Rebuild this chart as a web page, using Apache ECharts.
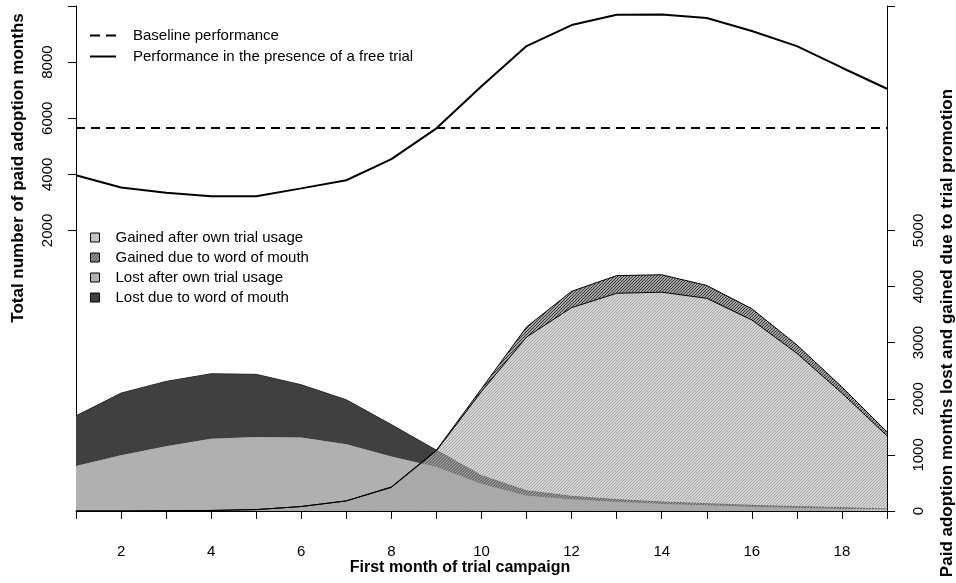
<!DOCTYPE html>
<html>
<head>
<meta charset="utf-8">
<script src="https://cdn.jsdelivr.net/npm/echarts@6/dist/echarts.min.js"></script>
<style>
  html, body { margin: 0; padding: 0; background: #fff; }
  #chart { width: 956px; height: 583px; }
</style>
</head>
<body>
<div id="chart"></div>
<script>
// ---- data ----
const months = [1, 2, 3, 4, 5, 6, 7, 8, 9, 10, 11, 12, 13, 14, 15, 16, 17, 18, 19];
const baselinePerformance = 5670;
const trialPerformance = [3970, 3530, 3340, 3220, 3220, 3500, 3790, 4540, 5640, 7140, 8570, 9320, 9690, 9700, 9570, 9110, 8570, 7800, 7050];
const gainedOwnTrial = [0, 0, 5, 10, 25, 80, 180, 420, 1075, 2130, 3100, 3625, 3880, 3900, 3790, 3405, 2810, 2100, 1340];
const gainedWordOfMouth = [0, 0, 0, 0, 0, 0, 0, 10, 10, 50, 180, 290, 315, 310, 230, 200, 150, 110, 70];
const lostOwnTrial = [804, 995, 1155, 1286, 1321, 1311, 1191, 970, 786, 480, 270, 203, 161, 125, 96, 71, 54, 36, 25];
const lostWordOfMouth = [892, 1106, 1155, 1160, 1114, 939, 791, 570, 298, 150, 90, 59, 42, 36, 35, 30, 24, 24, 11];
const leftTicks = [2000, 4000, 6000, 8000];
const rightTicks = [0, 1000, 2000, 3000, 4000, 5000];

const FONT = 'Liberation Sans, Arial, sans-serif';

function hatch(lineColor, period, lw) {
  const c = document.createElement('canvas');
  c.width = period; c.height = period;
  const ctx = c.getContext('2d');
  ctx.strokeStyle = lineColor;
  ctx.lineWidth = lw;
  ctx.beginPath();
  ctx.moveTo(-period, 2 * period); ctx.lineTo(2 * period, -period);
  ctx.moveTo(-period, period); ctx.lineTo(period, -period);
  ctx.moveTo(0, 2 * period); ctx.lineTo(2 * period, 0);
  ctx.stroke();
  return { image: c, repeat: 'repeat' };
}
const hatchLight = hatch('#a6a6a6', 3, 1.35);
const hatchDark = hatch('#353535', 3, 1.3);

const chart = echarts.init(document.getElementById('chart'), null, { renderer: 'canvas' });

const plain = function (v) { return String(v); };

const option = {
  animation: false,
  backgroundColor: '#fff',
  textStyle: { fontFamily: FONT, color: '#000' },
  grid: { left: 76, right: 69, top: 6, bottom: 72, containLabel: false },
  xAxis: {
    type: 'category',
    data: months,
    boundaryGap: false,
    axisLine: { show: true, onZero: false, lineStyle: { color: '#000', width: 1 } },
    axisTick: { show: true, interval: 0, length: 8, lineStyle: { color: '#000' } },
    axisLabel: {
      interval: function (i, v) { return Number(v) % 2 === 0; },
      margin: 33, fontSize: 15, color: '#000', fontFamily: FONT
    },
    splitLine: { show: false }
  },
  yAxis: [
    {
      type: 'value', min: -8000, max: 10000, interval: 2000, position: 'left',
      axisLine: { show: true, onZero: false, lineStyle: { color: '#000', width: 1 } },
      axisTick: { show: true, length: 8, customValues: leftTicks.concat([10000]), lineStyle: { color: '#000' } },
      axisLabel: { customValues: leftTicks, formatter: plain, rotate: 90, margin: 21, fontSize: 15, color: '#000', fontFamily: FONT },
      splitLine: { show: false }
    },
    {
      type: 'value', min: 0, max: 9000, interval: 1000, position: 'right',
      axisLine: { show: true, onZero: false, lineStyle: { color: '#000', width: 1 } },
      axisTick: { show: true, length: 8, customValues: rightTicks.concat([9000]), lineStyle: { color: '#000' } },
      axisLabel: { customValues: rightTicks, formatter: plain, rotate: 90, margin: 24, fontSize: 15, color: '#000', fontFamily: FONT },
      splitLine: { show: false }
    }
  ],
  legend: [
    {
      orient: 'vertical', left: 90, top: 28, padding: 0, itemWidth: 26, itemHeight: 2, itemGap: 6,
      selectedMode: false, symbolKeepAspect: false,
      textStyle: { fontSize: 15, color: '#000', fontFamily: FONT, padding: [0, 0, 0, 12] },
      data: [
        { name: 'Baseline performance', icon: 'path://M0,0h10v2h-10z M16,0h10v2h-10z', itemStyle: { color: '#000' } },
        { name: 'Performance in the presence of a free trial', icon: 'path://M0,0h26v2h-26z', itemStyle: { color: '#000' } }
      ]
    },
    {
      orient: 'vertical', left: 90, top: 230, padding: 0, itemWidth: 9, itemHeight: 9, itemGap: 5,
      selectedMode: false, icon: 'rect',
      textStyle: { fontSize: 15, color: '#000', fontFamily: FONT, padding: [0, 0, 0, 11] },
      data: [
        { name: 'Gained after own trial usage', itemStyle: { color: hatchLight, borderColor: '#000', borderWidth: 1 } },
        { name: 'Gained due to word of mouth', itemStyle: { color: hatchDark, borderColor: '#000', borderWidth: 1 } },
        { name: 'Lost after own trial usage', itemStyle: { color: '#b0b0b0', borderColor: '#000', borderWidth: 1 } },
        { name: 'Lost due to word of mouth', itemStyle: { color: '#404040', borderColor: '#000', borderWidth: 1 } }
      ]
    }
  ],
  graphic: [
    { type: 'text', x: 460, y: 568, style: { text: 'First month of trial campaign', font: 'bold 16px ' + FONT, fill: '#000', align: 'center', verticalAlign: 'middle' } },
    { type: 'text', x: 18, y: 168, rotation: Math.PI / 2, style: { text: 'Total number of paid adoption months', font: 'bold 17px ' + FONT, fill: '#000', align: 'center', verticalAlign: 'middle' } },
    { type: 'text', x: 947, y: 333, rotation: Math.PI / 2, style: { text: 'Paid adoption months lost and gained due to trial promotion', font: 'bold 17px ' + FONT, fill: '#000', align: 'center', verticalAlign: 'middle' } }
  ],
  series: [
    {
      name: 'Lost after own trial usage', type: 'line', yAxisIndex: 1, stack: 'lost', z: 2,
      data: lostOwnTrial, showSymbol: false, symbol: 'none',
      lineStyle: { opacity: 0, width: 0 }, itemStyle: { color: '#b0b0b0' },
      areaStyle: { color: '#b0b0b0', opacity: 1 }
    },
    {
      name: 'Lost due to word of mouth', type: 'line', yAxisIndex: 1, stack: 'lost', z: 2,
      data: lostWordOfMouth, showSymbol: false, symbol: 'none',
      lineStyle: { color: '#2a2a2a', width: 1 }, itemStyle: { color: '#404040' },
      areaStyle: { color: '#404040', opacity: 1 }
    },
    {
      name: 'Gained after own trial usage', type: 'line', yAxisIndex: 1, stack: 'gained', z: 3,
      data: gainedOwnTrial, showSymbol: false, symbol: 'none',
      lineStyle: { color: '#000', width: 1 }, itemStyle: { color: '#bbbbbb' },
      areaStyle: { color: hatchLight, opacity: 1 }
    },
    {
      name: 'Gained due to word of mouth', type: 'line', yAxisIndex: 1, stack: 'gained', z: 3,
      data: gainedWordOfMouth, showSymbol: false, symbol: 'none',
      lineStyle: { color: '#000', width: 1 }, itemStyle: { color: '#555' },
      areaStyle: { color: hatchDark, opacity: 1 }
    },
    {
      name: 'Baseline performance', type: 'line', yAxisIndex: 0, z: 4,
      data: [], showSymbol: false, symbol: 'none',
      lineStyle: { color: '#000', width: 2, type: [9, 6] }, itemStyle: { color: '#000' },
      markLine: {
        silent: true, symbol: 'none', label: { show: false },
        lineStyle: { color: '#000', width: 2, type: [9, 6] },
        data: [{ yAxis: baselinePerformance }]
      }
    },
    {
      name: 'Performance in the presence of a free trial', type: 'line', yAxisIndex: 0, z: 4,
      data: trialPerformance, showSymbol: false, symbol: 'none',
      lineStyle: { color: '#000', width: 2 }, itemStyle: { color: '#000' }
    }
  ]
};
chart.setOption(option);
</script>
</body>
</html>
